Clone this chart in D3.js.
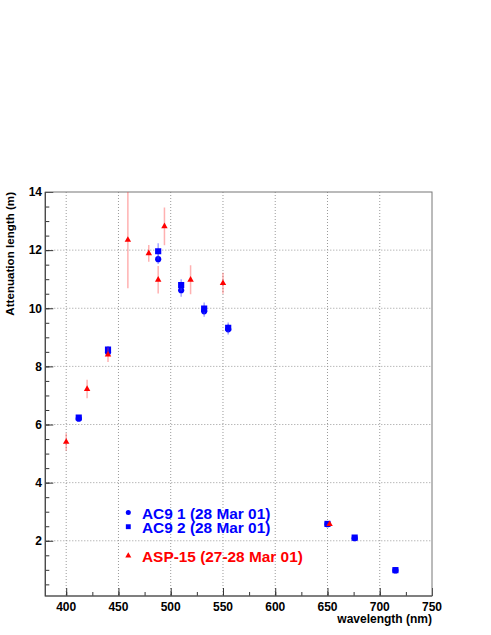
<!DOCTYPE html>
<html lang="en">
<head>
<meta charset="UTF-8">
<title>Attenuation length</title>
<script src="https://cdn.jsdelivr.net/npm/d3@7"></script>
<style>
    body { margin: 0; background: #fff; }
    text { font-family: "Liberation Sans", Arial, sans-serif; font-weight: bold; }
</style>
</head>
<body>
<div id="chart"></div>
<script>
    // AC9 1 (circles)
    let ac9aWave = [412, 440, 488, 510, 532, 555, 650, 676, 715];
    let ac9aLen  = [6.20, 8.49, 11.69, 10.62, 9.90, 9.28, 2.57, 2.09, 0.98];
    let ac9aErr  = [0.08, 0.12, 0.17, 0.22, 0.19, 0.18, 0.03, 0.03, 0.03];
    // AC9 2 (squares)
    let ac9bWave = [412, 440, 488, 510, 532, 555, 650, 676, 715];
    let ac9bLen  = [6.24, 8.58, 11.96, 10.80, 9.99, 9.33, 2.58, 2.11, 0.99];
    let ac9bErr  = [0.08, 0.12, 0.28, 0.20, 0.21, 0.18, 0.03, 0.03, 0.03];
    // ASP-15 (triangles)
    let aspWave = [400, 420, 440, 459, 479, 488, 494, 519, 550, 652];
    let aspLen  = [5.40, 7.22, 8.40, 12.35, 11.89, 10.98, 12.82, 10.98, 10.86, 2.57];
    let aspErr  = [0.30, 0.32, 0.25, 1.66, 0.29, 0.47, 0.65, 0.50, 0.36, 0.03];

    let xTicks = [400, 450, 500, 550, 600, 650, 700, 750];
    let yTicks = [2, 4, 6, 8, 10, 12, 14];
    let legendLabels = ["AC9 1 (28 Mar 01)", "AC9 2 (28 Mar 01)", "ASP-15 (27-28 Mar 01)"];

    function drawChart() {
        var width = 491, height = 635;
        var pLeft = 45.3, pRight = 432, pTop = 192, pBottom = 596;

        var svg = d3.select("#chart").append("svg")
            .attr("width", width)
            .attr("height", height);

        var x = d3.scaleLinear().domain([380, 750]).range([pLeft, pRight]);
        var y = d3.scaleLinear().domain([0.1, 14]).range([pBottom, pTop]);

        svg.append("clipPath").attr("id", "plotclip")
            .append("rect")
            .attr("x", pLeft).attr("y", pTop)
            .attr("width", pRight - pLeft).attr("height", pBottom - pTop);

        // grid
        var grid = svg.append("g").attr("stroke", "#9a9a9a").attr("stroke-dasharray", "1,2").attr("stroke-width", 1);
        xTicks.filter(d => d < 750).forEach(d => {
            grid.append("line").attr("x1", x(d)).attr("x2", x(d)).attr("y1", pTop).attr("y2", pBottom);
        });
        yTicks.filter(d => d < 14).forEach(d => {
            grid.append("line").attr("x1", pLeft).attr("x2", pRight).attr("y1", y(d)).attr("y2", y(d));
        });

        // axes with inward ticks
        var xAxis = d3.axisTop(x).tickValues(xTicks).tickSize(8).tickFormat("");
        var xMinor = d3.axisTop(x).tickValues(d3.range(400, 750, 25)).tickSize(4).tickFormat("");
        var yAxis = d3.axisRight(y).tickValues(yTicks).tickSize(8).tickFormat("");
        var yMinor = d3.axisRight(y).tickValues(d3.range(0.5, 14, 0.5)).tickSize(4).tickFormat("");

        [xAxis, xMinor].forEach(a => {
            svg.append("g").attr("transform", "translate(0," + pBottom + ")").call(a)
                .call(g => g.select(".domain").remove())
                .selectAll("line").attr("stroke", "#333");
        });
        [yAxis, yMinor].forEach(a => {
            svg.append("g").attr("transform", "translate(" + pLeft + ",0)").call(a)
                .call(g => g.select(".domain").remove())
                .selectAll("line").attr("stroke", "#333");
        });

        // frame
        svg.append("rect")
            .attr("x", pLeft).attr("y", pTop)
            .attr("width", pRight - pLeft).attr("height", pBottom - pTop)
            .attr("fill", "none").attr("stroke", "#777").attr("stroke-width", 1);
        svg.append("path")
            .attr("d", "M" + pLeft + "," + pTop + "V" + pBottom + "H" + pRight)
            .attr("fill", "none").attr("stroke", "#444").attr("stroke-width", 1.2);

        // tick labels
        svg.append("g").selectAll("text").data(xTicks).join("text")
            .attr("x", d => x(d)).attr("y", 611)
            .attr("text-anchor", "middle").attr("font-size", 12)
            .text(d => d);
        svg.append("g").selectAll("text").data(yTicks).join("text")
            .attr("x", 42).attr("y", d => y(d) + 4.3)
            .attr("text-anchor", "end").attr("font-size", 12)
            .text(d => d);

        // axis titles
        svg.append("text")
            .attr("x", pRight).attr("y", 623)
            .attr("text-anchor", "end").attr("font-size", 12)
            .text("wavelength (nm)");
        svg.append("text")
            .attr("transform", "translate(13.5," + pTop + ") rotate(-90)")
            .attr("text-anchor", "end").attr("font-size", 11.6)
            .text("Attenuation length (m)");

        // data
        var plot = svg.append("g").attr("clip-path", "url(#plotclip)");

        function drawSeries(wave, len, err, symbol, size, color, barColor) {
            var g = plot.append("g");
            g.selectAll("line").data(wave).join("line")
                .attr("x1", d => x(d)).attr("x2", d => x(d))
                .attr("y1", (d, i) => y(len[i] - err[i]))
                .attr("y2", (d, i) => y(len[i] + err[i]))
                .attr("stroke", barColor).attr("stroke-width", 1.5);
            g.selectAll("path").data(wave).join("path")
                .attr("transform", (d, i) => "translate(" + x(d) + "," + y(len[i]) + ")")
                .attr("d", d3.symbol().type(symbol).size(size))
                .attr("fill", color);
        }
        drawSeries(ac9aWave, ac9aLen, ac9aErr, d3.symbolCircle, 30, "#0000ff", "rgba(60,60,255,0.45)");
        drawSeries(ac9bWave, ac9bLen, ac9bErr, d3.symbolSquare, 38, "#0000ff", "rgba(60,60,255,0.45)");
        drawSeries(aspWave, aspLen, aspErr, d3.symbolTriangle, 18, "#ff0000", "rgba(255,60,60,0.4)");

        // legend
        var legendY = [518.5, 532.7, 561.7];
        var legendSym = [d3.symbolCircle, d3.symbolSquare, d3.symbolTriangle];
        var legendSize = [20, 24, 16];
        var legendColor = ["#0000ff", "#0000ff", "#ff0000"];
        var lg = svg.append("g");
        legendLabels.forEach((t, i) => {
            lg.append("path")
                .attr("transform", "translate(128.3," + (legendY[i] - 6) + ")")
                .attr("d", d3.symbol().type(legendSym[i]).size(legendSize[i]))
                .attr("fill", legendColor[i]);
            lg.append("text")
                .attr("x", 142).attr("y", legendY[i])
                .attr("font-size", 15.4).attr("fill", legendColor[i])
                .text(t);
        });
    }
    drawChart();
</script>
</body>
</html>
